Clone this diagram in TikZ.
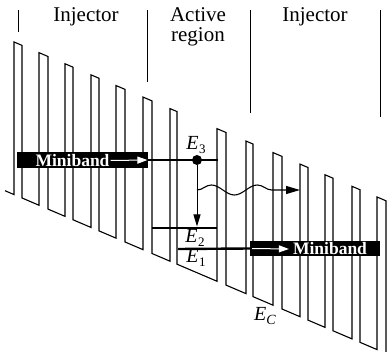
\documentclass[tikz,border=0pt]{standalone}
\usepackage{fontspec}
\setmainfont{Liberation Serif}
\usetikzlibrary{arrows.meta,decorations.pathmorphing}

\tikzset{
  band/.style={line width=1.1pt, line join=miter},
  level/.style={line width=2.4pt},
  minibox/.style={fill=black, inner sep=0pt, minimum height=16pt, anchor=west},
  minitext/.style={text=white, font=\fontsize{17.5}{18}\selectfont\bfseries, inner sep=1pt},
  whitearrow/.style={white, line width=1pt, -{Triangle[length=10pt,width=7pt]}},
  regionlbl/.style={font=\fontsize{21}{21}\selectfont, anchor=base, inner sep=0pt},
  elabel/.style={font=\fontsize{20}{20}\selectfont, inner sep=0pt},
  sep/.style={line width=1pt},
}
\newcommand{\lev}[1]{\textit{E}\kern0.02em\raisebox{-0.45ex}{\fontsize{13}{13}\selectfont #1}}

\begin{document}
\begin{tikzpicture}[x=1pt,y=-1pt]
\useasboundingbox (0,0) rectangle (390,352);

% Perfil de la banda
\draw[band] (5,190.7)
  \foreach \l/\r in {14/22, 39/48, 65/73, 91/99, 116/125, 143/152, 170/177, 217/226, 246/253, 273/282, 300/308, 325/333, 352/360, 377/386}
    { -- (\l,{188.6+0.427*\l}) -- (\l,{36+0.427*\l}) -- (\r,{36+0.427*\r}) -- (\r,{188.6+0.427*\r}) };

% Separadores y regiones
\foreach \x/\y in {18/32, 147/82, 250/113, 380/117}
  \draw[sep] (\x,10) -- (\x,\y);

\node[regionlbl] (injL) at (86,22) {Injector};
\node[regionlbl] (act) at (198,22) {Active};
\node[regionlbl] (reg) at (198,42) {region};
\node[regionlbl] (injR) at (315,22) {Injector};

% Minibandas
\node[minibox, minimum width=131pt] (mbL) at (17,160) {};
\node[minitext] (mbLtxt) at (72.5,160.5) {Miniband};
\draw[whitearrow] (mbLtxt.east) -- ([xshift=-1pt]mbL.east);

\node[minibox, minimum width=130pt, minimum height=15pt] (mbR) at (250,248.5) {};
\node[minitext] (mbRtxt) at (330,249) {Miniband};
\draw[whitearrow] ([xshift=2pt]mbR.west) -- ([xshift=-3pt]mbRtxt.west);

% Niveles
\node[circle, fill, inner sep=0pt, minimum size=10pt] (dot) at (197,160) {};
\coordinate (e3r) at (218,160);
\draw[level] (mbL.east) -- (e3r);

\coordinate (e2l) at (152,228);
\coordinate (e2r) at (217,228);
\draw[level] (e2l) -- (e2r);

\coordinate (e1l) at (178,249);
\draw[level] (e1l) -- (mbR.west);

\coordinate (e2top) at (197,226.5);
\draw[line width=1pt, -{Triangle[length=12pt,width=7pt]}] (dot) -- (e2top);

\coordinate (wv0) at (197,190);
\coordinate (wv1) at (300,190);
\draw[line width=1.1pt, -{Triangle[length=14pt,width=8pt]}, decorate,
  decoration={snake, segment length=46pt, amplitude=5pt, post length=14pt}] (wv0) -- (wv1);

\node[elabel] (lE3) at (196,145) {\lev{3}};
\node[elabel] (lE2) at (195,238) {\lev{2}};
\node[elabel] (lE1) at (196,258) {\lev{1}};
\node[elabel] (lEC) at (265,316) {\textit{E}\raisebox{-0.45ex}{\fontsize{14}{14}\selectfont\itshape C}};
\end{tikzpicture}
\end{document}
